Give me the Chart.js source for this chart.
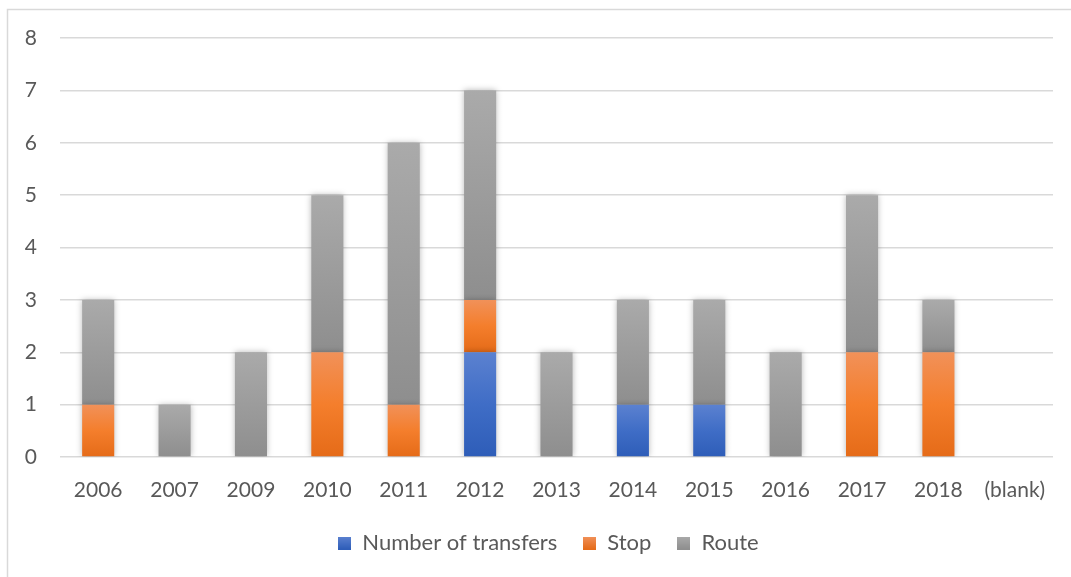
<!DOCTYPE html>
<html>
<head>
<meta charset="utf-8">
<script src="https://cdn.jsdelivr.net/npm/chart.js@4.4.1/dist/chart.umd.min.js"></script>
<style>
  html, body { margin: 0; padding: 0; background: #fff; }
  #wrap { width: 1071px; height: 577px; position: relative; }
</style>
</head>
<body>
<div id="wrap"><canvas id="c"></canvas></div>
<script>
// values
const years = ['2006', '2007', '2009', '2010', '2011', '2012', '2013', '2014', '2015', '2016', '2017', '2018', '(blank)'];
const transfers = [0, 0, 0, 0, 0, 2, 0, 1, 1, 0, 0, 0, null];
const stops     = [1, 0, 0, 2, 1, 1, 0, 0, 0, 0, 2, 2, null];
const routes    = [2, 1, 2, 3, 5, 4, 2, 2, 2, 2, 3, 1, null];
const yTicks    = [0, 1, 2, 3, 4, 5, 6, 7, 8];

const TEXT = '#595959';
const GRID = '#d9d9d9';
const FONT = 'Lato, "Open Sans", sans-serif';

// [top, middle, bottom] colours of each segment's vertical gradient
const SHADES = {
  blue:   ['#5b81d0', '#3f6dc6', '#2e5db8'],
  orange: ['#f19159', '#f47e2c', '#e56b18'],
  gray:   ['#aaaaaa', '#9c9c9c', '#8e8e8e'],
};

const allSeries = [transfers, stops, routes];

function gradientFor(shade, seriesIdx) {
  return (ctx) => {
    const chart = ctx.chart;
    if (!chart.chartArea || ctx.type !== 'data') return shade[1];
    const i = ctx.dataIndex;
    let base = 0;
    for (let s = 0; s < seriesIdx; s++) base += allSeries[s][i] || 0;
    const v = allSeries[seriesIdx][i] || 0;
    const y = chart.scales.y;
    const top = y.getPixelForValue(base + v);
    const bottom = y.getPixelForValue(base);
    if (!(bottom - top > 0)) return shade[1];
    const g = chart.ctx.createLinearGradient(0, top, 0, bottom);
    g.addColorStop(0, shade[0]);
    g.addColorStop(0.5, shade[1]);
    g.addColorStop(1, shade[2]);
    return g;
  };
}

const frame = {
  id: 'frame',
  afterLayout(chart) {
    // legend in the original sits a bit right of centre
    chart.legend.left += 22;
    chart.legend.right += 22;
  },
  beforeDraw(chart) {
    const c = chart.ctx;
    c.save();
    c.fillStyle = '#fff';
    c.fillRect(0, 0, chart.width, chart.height);
    c.strokeStyle = GRID;
    c.lineWidth = 1.5;
    c.strokeRect(7.5, 9.5, chart.width + 20, chart.height + 20);
    c.restore();
  },
  beforeDatasetsDraw(chart) {
    const c = chart.ctx;
    c.save();
    c.shadowColor = 'rgba(0,0,0,0.28)';
    c.shadowBlur = 6;
  },
  afterDatasetsDraw(chart) {
    chart.ctx.restore();
  },
};

const legendSwatch = (shade) => {
  const cv = document.createElement('canvas');
  cv.width = 13; cv.height = 13;
  const c = cv.getContext('2d');
  const g = c.createLinearGradient(0, 0, 0, 13);
  g.addColorStop(0, shade[0]);
  g.addColorStop(1, shade[2]);
  c.fillStyle = g;
  c.fillRect(0, 0, 13, 13);
  return cv;
};

new Chart(document.getElementById('c'), {
  type: 'bar',
  data: {
    labels: years,
    datasets: [
      { label: 'Number of transfers', data: transfers, backgroundColor: gradientFor(SHADES.blue, 0), pointStyle: legendSwatch(SHADES.blue) },
      { label: 'Stop', data: stops, backgroundColor: gradientFor(SHADES.orange, 1), pointStyle: legendSwatch(SHADES.orange) },
      { label: 'Route', data: routes, backgroundColor: gradientFor(SHADES.gray, 2), pointStyle: legendSwatch(SHADES.gray) },
    ],
  },
  options: {
    responsive: true,
    maintainAspectRatio: false,
    animation: false,
    layout: { padding: { top: 38, right: 18, left: 0, bottom: 13 } },
    datasets: { bar: { categoryPercentage: 1, barPercentage: 0.42, borderWidth: 0 } },
    plugins: {
      legend: {
        position: 'bottom',
        labels: {
          color: TEXT,
          font: { family: FONT, size: 22 },
          usePointStyle: true,
          boxWidth: 13,
          boxHeight: 13,
          padding: 26,
        },
      },
      tooltip: { enabled: false },
    },
    scales: {
      x: {
        stacked: true,
        grid: { display: false },
        border: { display: false },
        ticks: { color: TEXT, font: { family: FONT, size: 21 }, padding: 13, maxRotation: 0 },
        afterFit: (s) => { s.height = 49; },
      },
      y: {
        stacked: true,
        min: 0,
        max: 8,
        afterBuildTicks: (s) => { s.ticks = yTicks.map(v => ({ value: v })); },
        grid: { color: GRID, lineWidth: 1.5, drawTicks: false },
        border: { display: false },
        ticks: { color: TEXT, font: { family: FONT, size: 21 }, padding: 23 },
        afterFit: (s) => { s.width = 60; },
      },
    },
  },
  plugins: [frame],
});
</script>
</body>
</html>
